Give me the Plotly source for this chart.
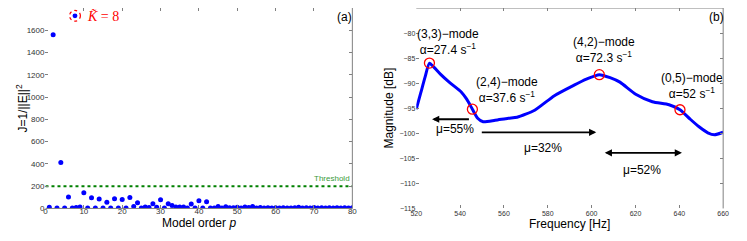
import plotly.graph_objects as go

# ---------------- data: panel (a) ----------------
order_p = list(range(1, 81))
inv_err = [10, 1560, 5, 412, 5, 102, 5, 8, 12, 140,
           5, 95, 5, 85, 5, 55, 5, 87, 5, 80,
           5, 98, 17, 52, 5, 13, 8, 43, 10, 77,
           5, 43, 26, 12, 12, 12, 5, 40, 5, 68,
           5, 60, 5, 5, 18, 5, 15, 6, 6, 10,
           5, 12, 8, 18, 5, 8, 5, 6, 5, 6,
           5, 6, 5, 5, 6, 10, 5, 6, 5, 8,
           5, 6, 5, 6, 5, 6, 5, 6, 5, 6]
threshold = 200
threshold_label = "Threshold"
k_label = "<i>K̃</i> = 8"

# ---------------- data: panel (b) ----------------
freq_hz = [520, 522, 524, 526, 528, 531, 535, 540.6, 543, 545.6, 548, 550.5, 556, 562,
           566, 574, 583, 592, 597.6, 603.5, 608.4, 612.9, 620.1, 627.7,
           635.3, 640.3, 645, 649, 653, 656, 660]
mag_db = [-95.2, -92.0, -88.8, -86.0, -86.8, -88.2, -89.8, -91.8, -93.2, -95.2, -97.0, -97.7, -97.4, -97.0,
          -96.8, -95.4, -92.5, -90.4, -89.2, -88.3, -88.9, -89.8, -92.2, -93.7,
          -94.3, -95.3, -97.2, -98.7, -99.9, -100.3, -99.8]
mode_names = ["(3,3)−mode", "(2,4)−mode", "(4,2)−mode", "(0,5)−mode"]
mode_freq = [526.0, 545.6, 603.5, 640.3]
mode_db = [-86.0, -95.2, -88.3, -95.3]
mode_alpha = ["27.4", "37.6", "72.3", "52"]
mu_pct = [55, 32, 52]

BLUE = "#0000ff"
GRAY = "#808080"
TICKFONT = "Liberation Sans, Arial, sans-serif"

# The page body keeps its default 8px margin on every side: size the figure so the page
# fits the 747x241 window exactly, and express positions in window pixels.
OFF = 8
W, H = 747 - 2 * OFF, 241 - 2 * OFF


def px(x):
    return min(1.0, max(0.0, (x - OFF) / W))


def py(y):
    return min(1.0, max(0.0, 1 - (y - OFF) / H))


fig = go.Figure()

# panel (a)
fig.add_trace(go.Scatter(x=order_p, y=inv_err, mode="markers",
                         marker=dict(color=BLUE, size=5), xaxis="x", yaxis="y",
                         showlegend=False))
fig.add_trace(go.Scatter(x=[0, 80], y=[threshold, threshold], mode="lines",
                         line=dict(color="#008000", width=2, dash="dot"),
                         xaxis="x", yaxis="y", showlegend=False))

# panel (b)
fig.add_trace(go.Scatter(x=freq_hz, y=mag_db, mode="lines",
                         line=dict(color=BLUE, width=3, shape="spline", smoothing=0.6),
                         xaxis="x2", yaxis="y2", showlegend=False))
fig.add_trace(go.Scatter(x=mode_freq, y=mode_db, mode="markers",
                         marker=dict(symbol="circle-open", color="red", size=10,
                                     line=dict(width=1.3, color="red")),
                         xaxis="x2", yaxis="y2", showlegend=False))

ydom = [py(213), py(6.5)]

axis_common = dict(showgrid=False, zeroline=False, ticks="inside", ticklen=3,
                   tickcolor=GRAY, mirror="ticks", showline=False)
font_a = dict(family=TICKFONT, size=8, color="#333333")
font_b = dict(family=TICKFONT, size=7, color="#333333")

fig.update_layout(
    width=W, height=H,
    margin=dict(l=0, r=0, t=0, b=0),
    paper_bgcolor="white", plot_bgcolor="white",
    xaxis=dict(domain=[px(40), px(352)], range=[0, 80], tickvals=list(range(0, 81, 10)),
               anchor="y", tickfont=font_a, ticklabelstandoff=-3, **axis_common),
    yaxis=dict(domain=ydom, range=[0, 1800], tickvals=list(range(0, 1801, 200)),
               anchor="x", tickfont=font_a, **axis_common),
    xaxis2=dict(domain=[px(417), px(729)], range=[520, 660], tickvals=list(range(520, 661, 20)),
                anchor="y2", tickfont=font_b, ticklabelstandoff=0, **axis_common),
    yaxis2=dict(domain=ydom, range=[-115, -75], tickvals=list(range(-115, -74, 5)),
                anchor="x2", tickfont=font_b, **axis_common),
)

shapes = [
    # spines
    dict(type="line", xref="x domain", yref="y domain", x0=0, y0=0, x1=1, y1=0, line=dict(color=GRAY, width=1)),
    dict(type="line", xref="x domain", yref="y domain", x0=1, y0=0, x1=1, y1=1, line=dict(color=GRAY, width=1)),
    dict(type="line", xref="x2 domain", yref="y2 domain", x0=0, y0=1, x1=1, y1=1, line=dict(color=GRAY, width=1)),
    dict(type="line", xref="x2 domain", yref="y2 domain", x0=1, y0=0, x1=1, y1=1, line=dict(color=GRAY, width=1)),
    # legend glyph for K~ = 8
    dict(type="circle", xref="paper", yref="paper",
         x0=px(70 - 2.5), x1=px(70 + 2.5), y0=py(16 + 2.5), y1=py(16 - 2.5),
         fillcolor=BLUE, line=dict(color=BLUE, width=0)),
    dict(type="circle", xref="paper", yref="paper",
         x0=px(70 - 5.5), x1=px(70 + 5.5), y0=py(16 + 5.5), y1=py(16 - 5.5),
         line=dict(color="red", width=1.2, dash="dot")),
]
fig.update_layout(shapes=shapes)

ann = []
TXT = dict(family="Liberation Sans, Arial, sans-serif", size=12, color="black")
# axis titles
ann.append(dict(text="Model order <i>p</i>", x=px(196), y=py(228), xref="paper", yref="paper",
                showarrow=False, font=TXT, xanchor="center", yanchor="middle"))
ann.append(dict(text="J=1/||E||<sup>2</sup>", x=px(16), y=py(110), xref="paper", yref="paper",
                showarrow=False, font=TXT, textangle=-90, xanchor="center", yanchor="middle"))
ann.append(dict(text="Frequency [Hz]", x=px(573), y=py(229), xref="paper", yref="paper",
                showarrow=False, font=TXT, xanchor="center", yanchor="middle"))
ann.append(dict(text="Magnitude [dB]", x=px(389), y=py(110), xref="paper", yref="paper",
                showarrow=False, font=TXT, textangle=-90, xanchor="center", yanchor="middle"))
# panel letters
ann.append(dict(text="(a)", x=px(344), y=py(17), xref="paper", yref="paper",
                showarrow=False, font=TXT, xanchor="center", yanchor="middle"))
ann.append(dict(text="(b)", x=px(722), y=py(8), xref="paper", yref="paper",
                showarrow=False, font=TXT, xanchor="center", yanchor="top"))
# K~ label
ann.append(dict(text=k_label, x=px(80), y=py(17), xref="paper", yref="paper",
                showarrow=False, xanchor="left", yanchor="middle",
                font=dict(family="Liberation Serif, DejaVu Serif, serif", size=14, color="red")))
# threshold label
ann.append(dict(text=threshold_label, x=80, y=threshold, xref="x", yref="y",
                showarrow=False, xanchor="right", yanchor="bottom", yshift=1,
                font=dict(family=TICKFONT, size=8, color="#3a9a3a")))

# mode labels (offset from the mode points)
label_dx = [8.4, 15.9, 2.2, 5.3]
label_dy = [4.3, 3.9, 4.9, 4.7]
for name, f, m, a, dx, dy in zip(mode_names, mode_freq, mode_db, mode_alpha, label_dx, label_dy):
    ann.append(dict(text=f"{name}<br>α={a} s<sup>−1</sup>", x=f + dx, y=m + dy, xref="x2", yref="y2",
                    showarrow=False, font=TXT, xanchor="center", yanchor="middle", align="center"))

# damping-difference arrows between neighbouring modes
arrow_from = [544.7, 549.2, 605.3]
arrow_to = [527.2, 602.1, 641.2]
arrow_db = [-97.2, -99.8, -103.9]
arrow_side = ["end", "end", "end+start"]
mu_x = [537.5, 577.7, 623.2]
mu_y = [-99.2, -102.9, -107.4]
for f0, f1, yv, side in zip(arrow_from, arrow_to, arrow_db, arrow_side):
    ann.append(dict(text="", x=f1, y=yv, ax=f0, ay=yv, xref="x2", yref="y2", axref="x2", ayref="y2",
                    showarrow=True, arrowhead=2, arrowsize=0.8, arrowwidth=1.8, arrowcolor="black",
                    arrowside=side))
for mu, xv, yv in zip(mu_pct, mu_x, mu_y):
    ann.append(dict(text=f"μ={mu}%", x=xv, y=yv, xref="x2", yref="y2", showarrow=False,
                    font=TXT, xanchor="center", yanchor="middle"))

fig.update_layout(annotations=ann)
fig.write_html("out.html")
